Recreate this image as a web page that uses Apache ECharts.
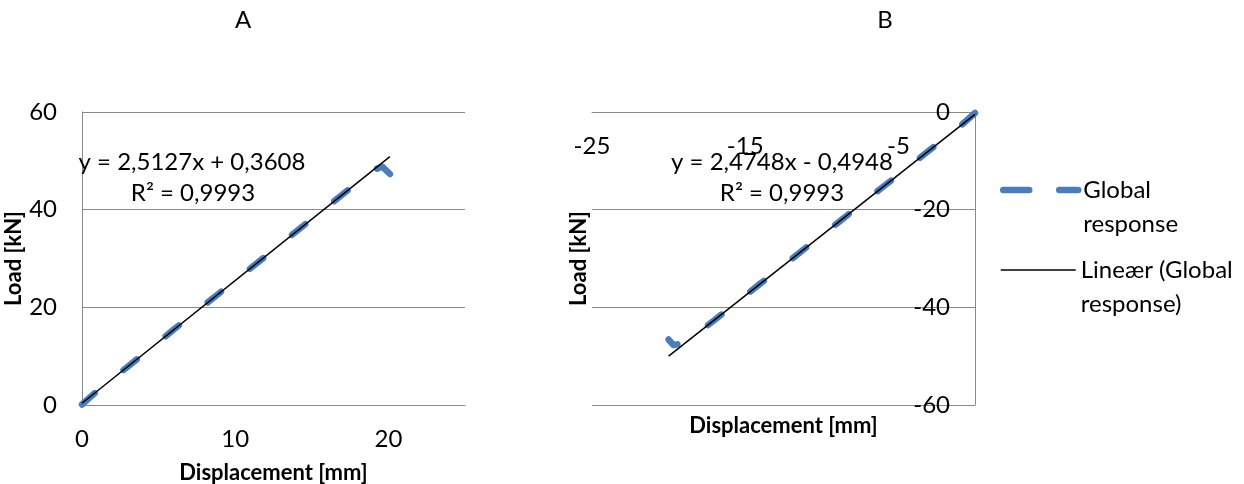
<!DOCTYPE html>
<html>
<head>
<meta charset="utf-8">
<script src="https://cdn.jsdelivr.net/npm/echarts@6/dist/echarts.min.js"></script>
<style>
  html, body { margin: 0; padding: 0; background: #fff; }
  #chart { width: 1244px; height: 484px; }
</style>
</head>
<body>
<div id="chart"></div>
<script>
// Load-displacement response, panel A (tension) and panel B (compression)
const displacementA = [0, 1, 2, 3, 4, 5, 6, 7, 8, 9, 10, 11, 12, 13, 14, 15, 16, 17, 18, 19, 19.6, 20.1];
const loadA = [0.1, 2.9, 5.4, 7.9, 10.4, 12.9, 15.5, 18.0, 20.5, 23.0, 25.5, 28.0, 30.5, 33.0, 35.6, 38.1, 40.6, 43.1, 45.6, 48.1, 48.8, 47.3];
const displacementB = [0, -1, -2, -3, -4, -5, -6, -7, -8, -9, -10, -11, -12, -13, -14, -15, -16, -17, -18, -19, -19.7, -20.0];
const loadB = [-0.2, -3.0, -5.4, -7.9, -10.4, -12.9, -15.3, -17.8, -20.3, -22.8, -25.2, -27.7, -30.2, -32.7, -35.1, -37.6, -40.1, -42.6, -45.0, -47.4, -47.7, -46.6];

// Linear trend lines: [slope, intercept]
const trendA = [2.5127, 0.3608];
const trendB = [2.4748, -0.4948];
const rSquaredA = 0.9993;
const rSquaredB = 0.9993;

// Axis ticks
const xTicksA = [0, 10, 20];
const yTicksA = [0, 20, 40, 60];
const xTicksB = [-25, -15, -5];
const yTicksB = [-60, -40, -20, 0];

const panelTitles = ['A', 'B'];
const seriesNames = ['Global response', 'Lineær (Global response)'];
const axisNames = ['Displacement [mm]', 'Load [kN]'];

const FONT = 'Lato';
const GRAY = '#898989';
const BLUE = '#4a7dba';

const PLOT_W = 383, PLOT_H = 293;

function pairs(xs, ys) { return xs.map((x, i) => [x, ys[i]]); }
function trendPoints(xs, coef) {
  const lo = Math.min(...xs), hi = Math.max(...xs);
  return [[lo, coef[0] * lo + coef[1]], [hi, coef[0] * hi + coef[1]]];
}
function num(v) { return Math.abs(v).toFixed(4).replace('.', ','); }
function equation(coef) {
  return 'y = ' + num(coef[0]) + 'x ' + (coef[1] < 0 ? '-' : '+') + ' ' + num(coef[1]);
}
function r2Text(r) { return 'R² = ' + r.toFixed(4).replace('.', ','); }

const tickLabel = { color: '#000', fontFamily: FONT, fontSize: 24 };
const nameStyle = { color: '#000', fontFamily: FONT, fontSize: 22, fontWeight: 'bold' };

// The horizontal axis sits where load = 0, the vertical one where displacement = 0
function xAxis(idx, min, max, ticks, nameGap, offset) {
  return {
    type: 'value', gridIndex: idx, min: min, max: max, position: 'bottom', offset: offset,
    axisLine: { show: true, onZero: false, lineStyle: { color: GRAY, width: 1 } },
    axisTick: { show: false },
    splitLine: { show: false },
    axisLabel: Object.assign({ customValues: ticks, margin: 22 }, tickLabel),
    name: axisNames[0], nameLocation: 'middle', nameGap: nameGap, nameTextStyle: nameStyle
  };
}
function yAxis(idx, min, max, nameGap, offset) {
  return {
    type: 'value', gridIndex: idx, min: min, max: max, interval: 20, position: 'left', offset: offset,
    axisLine: { show: true, onZero: false, lineStyle: { color: GRAY, width: 1 } },
    axisTick: { show: false },
    splitLine: { show: true, lineStyle: { color: GRAY, width: 1 } },
    axisLabel: Object.assign({ margin: 25 }, tickLabel),
    name: axisNames[1], nameLocation: 'middle', nameRotate: 90, nameGap: nameGap, nameTextStyle: nameStyle
  };
}

function responseSeries(idx, xs, ys) {
  return {
    type: 'line', name: seriesNames[0], xAxisIndex: idx, yAxisIndex: idx,
    data: pairs(xs, ys), symbol: 'none', showSymbol: false, z: 2,
    itemStyle: { color: BLUE },
    lineStyle: { color: BLUE, width: 6.5, type: [17, 37], cap: 'round', join: 'round' }
  };
}
function trendSeries(idx, xs, coef) {
  return {
    type: 'line', name: seriesNames[1], xAxisIndex: idx, yAxisIndex: idx,
    data: trendPoints(xs, coef), symbol: 'none', showSymbol: false, z: 3,
    itemStyle: { color: '#000' },
    lineStyle: { color: '#000', width: 1.5 }
  };
}

function legend(name, top, style) {
  return {
    data: [Object.assign({ name: name, itemStyle: { opacity: 0 } }, style)],
    orient: 'vertical', left: 1000, top: top, padding: 0,
    itemWidth: 75, itemHeight: 14, selectedMode: false,
    // blank first line keeps the icon level with the first text line
    formatter: n => '\n' + n.replace(/ (response)/, '\n$1'),
    textStyle: { color: '#000', fontFamily: FONT, fontSize: 24, lineHeight: 34 }
  };
}

function text(str, x, y) {
  return {
    type: 'text', x: x, y: y, z: 10,
    style: { text: str, fill: '#000', font: '24px ' + FONT, textAlign: 'center', textVerticalAlign: 'middle' }
  };
}

const chart = echarts.init(document.getElementById('chart'), null, { renderer: 'canvas' });
chart.setOption({
  animation: false,
  backgroundColor: '#fff',
  grid: [
    { left: 82, top: 112, width: PLOT_W, height: PLOT_H, outerBoundsMode: 'none', containLabel: false },
    { left: 592, top: 112, width: PLOT_W, height: PLOT_H, outerBoundsMode: 'none', containLabel: false }
  ],
  xAxis: [xAxis(0, 0, 25, xTicksA, 57, 0), xAxis(1, -25, 0, xTicksB, 303, -PLOT_H)],
  yAxis: [yAxis(0, 0, 60, 45, 0), yAxis(1, -60, 0, 385, -PLOT_W)],
  legend: [
    legend(seriesNames[0], 139, { lineStyle: { type: [26, 30], width: 6.5, cap: 'round', color: BLUE } }),
    legend(seriesNames[1], 219, { lineStyle: { width: 1.5, color: '#000' } })
  ],
  series: [
    responseSeries(0, displacementA, loadA),
    trendSeries(0, displacementA, trendA),
    responseSeries(1, displacementB, loadB),
    trendSeries(1, displacementB, trendB)
  ],
  graphic: [
    text(panelTitles[0], 243, 20),
    text(panelTitles[1], 885, 20),
    text(equation(trendA), 192, 162),
    text(r2Text(rSquaredA), 193, 193),
    text(equation(trendB), 782, 162),
    text(r2Text(rSquaredB), 782, 193)
  ]
});
</script>
</body>
</html>
